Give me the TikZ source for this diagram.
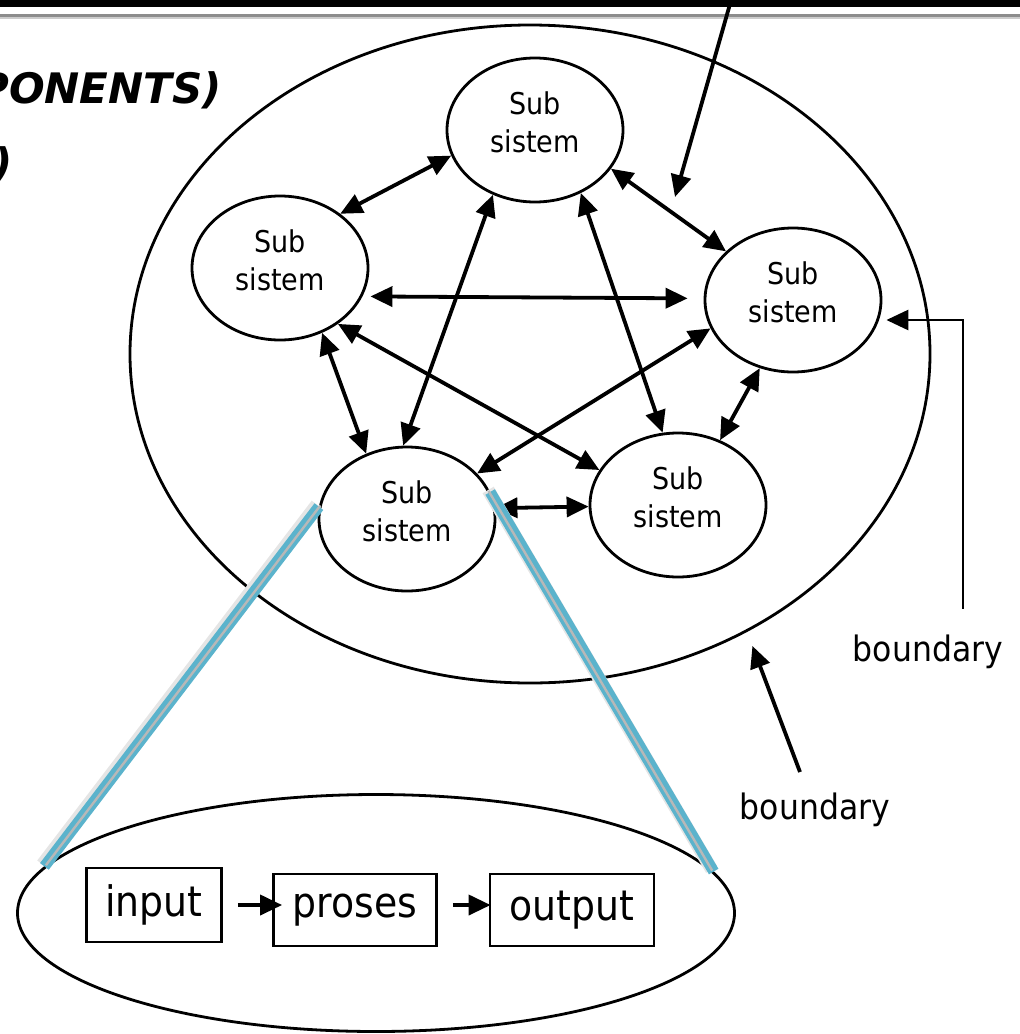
\documentclass[tikz,border=0pt]{standalone}
\usepackage{fontspec}
\setmainfont{DejaVu Sans Condensed}
\newfontfamily\titlefont{DejaVu Sans}
\usetikzlibrary{shapes.geometric,arrows.meta}
\definecolor{teal1}{HTML}{5BB3CC}
\tikzset{
  subsys/.style={draw, line width=2.8pt, ellipse, minimum width=176pt, minimum height=144pt, inner sep=0pt, align=center, font=\fontsize{30}{38}\selectfont},
  boundellipse/.style={draw, line width=2.8pt, ellipse, inner sep=0pt},
  procbox/.style={draw, line width=2.8pt, rectangle, inner sep=0pt, font=\fontsize{42}{42}\selectfont},
  link/.style={line width=3.8pt, {Triangle[length=22pt,width=20pt]}-{Triangle[length=22pt,width=20pt]}},
  pointer/.style={line width=3.8pt, -{Triangle[length=22pt,width=20pt]}},
  thinpointer/.style={line width=2.8pt, -{Triangle[length=22pt,width=20pt]}},
  zoomshadow/.style={line width=13pt, black!10, line cap=butt},
  zoomline/.style={line width=11pt, teal1, line cap=butt},
  zoomcore/.style={line width=2.4pt, black!28, line cap=butt},
  lbl/.style={font=\fontsize{35}{35}\selectfont, inner sep=0pt},
  titletext/.style={font=\titlefont\bfseries\itshape\fontsize{42}{42}\selectfont, inner sep=0pt}
}
\begin{document}
\begin{tikzpicture}[x=1pt,y=-1pt]
\useasboundingbox (0,0) rectangle (1020,1034);
% top bar
\fill[black] (0,0) rectangle (1020,7);
\fill[black!45] (0,14) rectangle (1020,17);
\fill[black!20] (0,17) rectangle (1020,19);
% title fragments
\node[titletext, anchor=base east] (title1) at (222,103) {PONENTS)};
\node[titletext, anchor=base east] (title2) at (13,178) {)};
% big system ellipse
\node[boundellipse, minimum width=800pt, minimum height=658pt] (sys) at (530,354) {};
% subsystems
\node[subsys] (T) at (535,130) {Sub\\sistem\\[-22pt]};
\node[subsys] (L) at (280,268) {Sub\\sistem\\[-22pt]};
\node[subsys] (R) at (793,300) {Sub\\sistem\\[-22pt]};
\node[subsys] (BL) at (407,519) {Sub\\sistem\\[-22pt]};
\node[subsys] (BR) at (678,505) {Sub\\sistem\\[-22pt]};
% interconnections
\draw[link] (T.197) -- (L.42);
\draw[link] (T.333) -- (R.144);
\draw[link, shorten <=8pt, shorten >=16pt] (L.341) -- (R.179);
\draw[link] (T.237) -- (BL.93);
\draw[link] (T.306) -- (BR.102);
\draw[link] (L.303) -- (BL.122);
\draw[link] (L.316) -- (BR.156);
\draw[link] (R.199) -- (BL.33);
\draw[link] (R.244) -- (BR.57);
\draw[link] (BL.7) -- (BR.181);
% pointer from top
\coordinate (topstart) at (730,4);
\coordinate (toptip) at (675,197);
\draw[pointer] (topstart) -- (toptip);
% boundary labels
\node[lbl] (b1) at (928,652) {boundary};
\coordinate (bend1) at (963,320);
\draw[thinpointer, shorten >=4pt] (b1.north -| bend1) ++(0,-26) -- (bend1) -- (bend1 -| R.east);
\node[lbl] (b2) at (815,810) {boundary};
\coordinate (b2start) at (800,772);
\draw[pointer, shorten >=15pt] (b2start) -- (sys.-52.3);
% lower ellipse with process
\node[boundellipse, minimum width=717pt, minimum height=237pt] (detail) at (376,913) {};
\node[procbox, minimum width=135pt, minimum height=74pt] (inp) at (154,905) {input};
\node[procbox, minimum width=163pt, minimum height=72pt] (pro) at (355,910) {proses};
\node[procbox, minimum width=164pt, minimum height=72pt] (outp) at (572,910) {output};
\draw[pointer, shorten <=15pt, shorten >=-10pt] (inp.east) -- (inp.east -| pro.west);
\draw[pointer, shorten <=15pt, shorten >=-2pt] (pro.east |- inp.east) -- (inp.east -| outp.west);
% zoom lines
\draw[zoomshadow, transform canvas={xshift=-2pt,yshift=2pt}] (BL.172) -- (detail.172.9);
\draw[zoomline] (BL.172) -- (detail.172.9);
\draw[zoomcore, transform canvas={xshift=1.5pt,yshift=1.2pt}] (BL.172) -- (detail.172.9);
\draw[zoomshadow, transform canvas={xshift=-2pt,yshift=2pt}] (BL.18.4) -- (detail.7);
\draw[zoomline] (BL.18.4) -- (detail.7);
\draw[zoomcore, transform canvas={xshift=-1.5pt,yshift=1pt}] (BL.18.4) -- (detail.7);
\end{tikzpicture}
\end{document}
